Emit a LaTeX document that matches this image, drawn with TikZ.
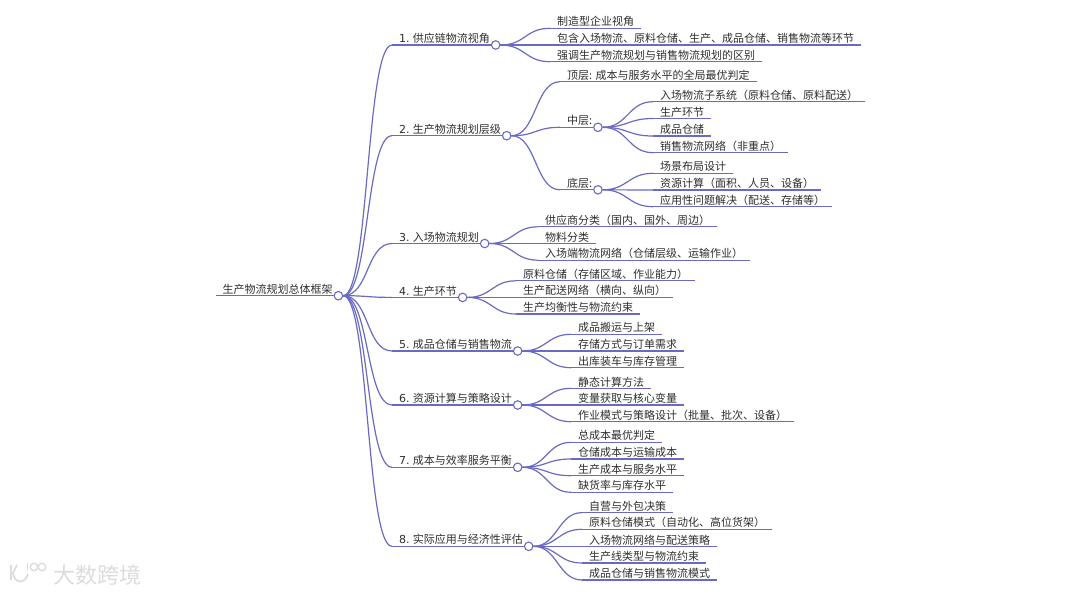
\documentclass[tikz,border=0pt]{standalone}
\usepackage{fontspec}
\setmainfont{Noto Sans CJK SC}
\newfontfamily\numfont{DejaVu Sans}
\usetikzlibrary{positioning}
\definecolor{linkblue}{HTML}{6A6AC2}
\definecolor{inkgray}{HTML}{2E2E2E}
\definecolor{markgray}{HTML}{DCDCDC}
\tikzstyle{rule} = [draw=linkblue, line width=1.2pt]
\tikzstyle{item} = [rectangle,
			anchor=south west,
			text=inkgray,
			font=\fontsize{11}{11}\selectfont,
			inner xsep=7pt,
			inner ysep=1.2pt,
			append after command={(\tikzlastnode.south west) edge[rule] (\tikzlastnode.south east)}]
\tikzstyle{dot} = [circle,
			draw=linkblue,
			fill=white,
			line width=1.1pt,
			inner sep=0pt,
			minimum size=8.5pt]
\tikzstyle{brandtext} = [rectangle,
			text=markgray,
			font=\fontsize{22}{22}\selectfont]
\tikzstyle{brandline} = [draw=markgray, line width=1.7pt]
\tikzstyle{brandring} = [circle,
			draw=markgray,
			line width=1.4pt,
			inner sep=0pt,
			minimum size=7.5pt]

\begin{document}
\begin{tikzpicture}[x=1pt, y=-1pt]
	\useasboundingbox (0,0) rectangle (1080,595);
	% root and first level
	\node [item] (root) at (215.5,295.7) {生产物流规划总体框架};
	\node [item] (supply) at (392,45) {{\numfont 1.} 供应链物流视角};
	\node [item] (levels) at (392,135.7) {{\numfont 2.} 生产物流规划层级};
	\node [item] (inbound) at (392,243.5) {{\numfont 3.} 入场物流规划};
	\node [item] (prod) at (392,297.4) {{\numfont 4.} 生产环节};
	\node [item] (finished) at (392,351) {{\numfont 5.} 成品仓储与销售物流};
	\node [item] (resource) at (392,405) {{\numfont 6.} 资源计算与策略设计};
	\node [item] (cost) at (392,467.3) {{\numfont 7.} 成本与效率服务平衡};
	\node [item] (apply) at (392,546.3) {{\numfont 8.} 实际应用与经济性评估};
	% branch 1
	\node [item] (supply-a) at (550,28.3) {制造型企业视角};
	\node [item] (supply-b) at (550,45) {包含入场物流、原料仓储、生产、成品仓储、销售物流等环节};
	\node [item] (supply-c) at (550,61.7) {强调生产物流规划与销售物流规划的区别};
	% branch 2
	\node [item] (top) at (560,81.7) {顶层: 成本与服务水平的全局最优判定};
	\node [item] (mid) at (560,127.3) {中层:};
	\node [item] (low) at (560,189.8) {底层:};
	\node [item] (mid-a) at (653,101.7) {入场物流子系统（原料仓储、原料配送）};
	\node [item] (mid-b) at (653,118.5) {生产环节};
	\node [item] (mid-c) at (653,136) {成品仓储};
	\node [item] (mid-d) at (653,152.7) {销售物流网络（非重点）};
	\node [item] (low-a) at (653,173.3) {场景布局设计};
	\node [item] (low-b) at (653,190) {资源计算（面积、人员、设备）};
	\node [item] (low-c) at (653,206.7) {应用性问题解决（配送、存储等）};
	% branch 3
	\node [item] (inbound-a) at (538,226.8) {供应商分类（国内、国外、周边）};
	\node [item] (inbound-b) at (538,243.5) {物料分类};
	\node [item] (inbound-c) at (538,260.2) {入场端物流网络（仓储层级、运输作业）};
	% branch 4
	\node [item] (prod-a) at (516,280.8) {原料仓储（存储区域、作业能力）};
	\node [item] (prod-b) at (516,297.4) {生产配送网络（横向、纵向）};
	\node [item] (prod-c) at (516,314) {生产均衡性与物流约束};
	% branch 5
	\node [item] (finished-a) at (571,334.3) {成品搬运与上架};
	\node [item] (finished-b) at (571,351) {存储方式与订单需求};
	\node [item] (finished-c) at (571,367.7) {出库装车与库存管理};
	% branch 6
	\node [item] (resource-a) at (571,388.3) {静态计算方法};
	\node [item] (resource-b) at (571,405) {变量获取与核心变量};
	\node [item] (resource-c) at (571,421.7) {作业模式与策略设计（批量、批次、设备）};
	% branch 7
	\node [item] (cost-a) at (571,442.3) {总成本最优判定};
	\node [item] (cost-b) at (571,459) {仓储成本与运输成本};
	\node [item] (cost-c) at (571,475.7) {生产成本与服务水平};
	\node [item] (cost-d) at (571,492.3) {缺货率与库存水平};
	% branch 8
	\node [item] (apply-a) at (582,512.6) {自营与外包决策};
	\node [item] (apply-b) at (582,529.3) {原料仓储模式（自动化、高位货架）};
	\node [item] (apply-c) at (582,546.3) {入场物流网络与配送策略};
	\node [item] (apply-d) at (582,563) {生产线类型与物流约束};
	\node [item] (apply-e) at (582,580) {成品仓储与销售物流模式};
	% dots at the ends of the parents
	\foreach \parent in {root, supply, levels, inbound, prod, finished, resource, cost, apply, mid, low}
		\node [dot] (\parent-dot) at ([xshift=-1.5pt]\parent.south east) {};
	% links
	\foreach \kid in {supply, levels, inbound, prod, finished, resource, cost, apply}
		\draw [rule] (root-dot.east) .. controls +(26,0) and +(-26,0) .. (\kid.south west);
	\foreach \kid in {supply-a, supply-b, supply-c}
		\draw [rule] (supply-dot.east) .. controls +(25,0) and +(-25,0) .. (\kid.south west);
	\foreach \kid in {top, mid, low}
		\draw [rule] (levels-dot.east) .. controls +(25,0) and +(-25,0) .. (\kid.south west);
	\foreach \kid in {mid-a, mid-b, mid-c, mid-d}
		\draw [rule] (mid-dot.east) .. controls +(25,0) and +(-25,0) .. (\kid.south west);
	\foreach \kid in {low-a, low-b, low-c}
		\draw [rule] (low-dot.east) .. controls +(25,0) and +(-25,0) .. (\kid.south west);
	\foreach \kid in {inbound-a, inbound-b, inbound-c}
		\draw [rule] (inbound-dot.east) .. controls +(24,0) and +(-24,0) .. (\kid.south west);
	\foreach \kid in {prod-a, prod-b, prod-c}
		\draw [rule] (prod-dot.east) .. controls +(24,0) and +(-24,0) .. (\kid.south west);
	\foreach \kid in {finished-a, finished-b, finished-c}
		\draw [rule] (finished-dot.east) .. controls +(24,0) and +(-24,0) .. (\kid.south west);
	\foreach \kid in {resource-a, resource-b, resource-c}
		\draw [rule] (resource-dot.east) .. controls +(24,0) and +(-24,0) .. (\kid.south west);
	\foreach \kid in {cost-a, cost-b, cost-c, cost-d}
		\draw [rule] (cost-dot.east) .. controls +(24,0) and +(-24,0) .. (\kid.south west);
	\foreach \kid in {apply-a, apply-b, apply-c, apply-d, apply-e}
		\draw [rule] (apply-dot.east) .. controls +(24,0) and +(-24,0) .. (\kid.south west);
	% watermark
	\node [brandtext, anchor=west] (brand) at (49.5,575) {大数跨境};
	\draw [brandline] (11,565) -- (11,580);
	\draw [brandline] (17,565) -- (13,573) .. controls (14,583) and (25,585) .. (28,574);
	\draw [brandline] (27.5,563) -- (27.5,571);
	\node [brandring] (ring-a) at (34,567) {};
	\node [brandring] (ring-b) at (42,567) {};
\end{tikzpicture}
\end{document}
